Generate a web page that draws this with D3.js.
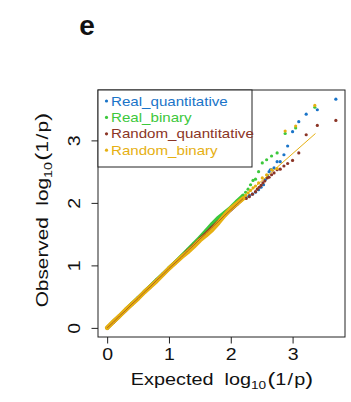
<!DOCTYPE html>
<html><head><meta charset="utf-8">
<script src="https://cdn.jsdelivr.net/npm/d3@7"></script>
<style>html,body{margin:0;padding:0;background:#fff;}svg{display:block;}</style>
</head><body>
<script>
// ---- data ----
const seriesNames = ["Real_quantitative","Real_binary","Random_quantitative","Random_binary"];
const seriesColors = ["#1a74c8","#3cc83c","#8b3526","#e6b012"];
const xTicks = [0,1,2,3];
const yTicks = [0,1,2,3];

// dense bulk of each QQ series, observed value at these expected values
const bulkExpected = [0.0,0.1,0.2,0.3,0.4,0.5,0.6,0.7,0.8,0.9,1.0,1.1,1.2,1.3,1.4,1.5,1.6,1.7,1.8,1.9,2.0,2.1,2.2];
const realQuantBulk   = [0.00,0.10,0.19,0.29,0.38,0.48,0.57,0.67,0.76,0.86,0.95,1.05,1.14,1.23,1.33,1.42,1.52,1.61,1.71,1.81,1.90,2.00,2.09];
const realBinBulk     = [0.00,0.10,0.19,0.29,0.39,0.48,0.58,0.67,0.77,0.86,0.96,1.05,1.15,1.25,1.35,1.45,1.56,1.67,1.77,1.85,1.93,2.03,2.12];
const randQuantBulk   = [0.00,0.09,0.19,0.28,0.38,0.47,0.57,0.66,0.76,0.85,0.95,1.04,1.13,1.23,1.32,1.42,1.51,1.61,1.70,1.80,1.89,1.98,2.07];
const randBinBulk     = [0.00,0.10,0.19,0.29,0.38,0.47,0.57,0.66,0.75,0.85,0.95,1.04,1.13,1.21,1.30,1.40,1.48,1.57,1.68,1.80,1.91,1.99,2.07];

// sparse tail points (expected, observed)
const realQuantTailExp = [2.25,2.30,2.35,2.40,2.45,2.49,2.53,2.56,2.59,2.62,2.64,2.66,2.70,2.75,2.80,2.86,2.92,3.00,3.10,3.22,3.40,3.70];
const realQuantTailObs = [2.10,2.12,2.14,2.17,2.21,2.25,2.29,2.37,2.44,2.50,2.53,2.53,2.56,2.66,2.66,2.77,2.91,3.14,3.30,3.42,3.49,3.66];
const realBinTailExp   = [2.24,2.28,2.32,2.36,2.40,2.45,2.51,2.58,2.66,2.75,2.88,3.05,3.36];
const realBinTailObs   = [2.17,2.22,2.29,2.36,2.38,2.50,2.64,2.69,2.75,2.80,3.11,3.20,3.53];
const randQuantTailExp = [2.25,2.30,2.35,2.40,2.43,2.46,2.49,2.52,2.55,2.59,2.62,2.66,2.70,2.75,2.80,2.86,2.92,3.00,3.10,3.22,3.40,3.70];
const randQuantTailObs = [2.07,2.10,2.14,2.18,2.22,2.25,2.28,2.32,2.35,2.40,2.41,2.45,2.48,2.53,2.54,2.59,2.63,2.68,2.80,3.09,3.24,3.32];
const randBinTailExp   = [2.24,2.28,2.32,2.36,2.40,2.45,2.51,2.58,2.66,2.75,2.88,3.05,3.36];
const randBinTailObs   = [2.12,2.16,2.20,2.24,2.27,2.32,2.40,2.45,2.53,2.55,3.15,3.23,3.56];

// fitted line segment (Random_binary)
const fitLineExp = [2.2,3.37];
const fitLineObs = [2.09,3.11];

const bulks = [realQuantBulk, realBinBulk, randQuantBulk, randBinBulk];
const tailsExp = [realQuantTailExp, realBinTailExp, randQuantTailExp, randBinTailExp];
const tailsObs = [realQuantTailObs, realBinTailObs, randQuantTailObs, randBinTailObs];

// ---- drawing ----
const W = 351, H = 402;
const plot = {left: 98, right: 345, top: 90, bottom: 337};
const FONT = "'Liberation Sans', Arial, Helvetica, sans-serif";
const STRETCH = 1.22;

const svg = d3.select("body").append("svg").attr("width", W).attr("height", H)
  .style("font-family", FONT);

const x = d3.scaleLinear().domain([-0.148, 3.848]).range([plot.left, plot.right]);
const y = d3.scaleLinear().domain([-0.146, 3.806]).range([plot.bottom, plot.top]);

// panel letter
svg.append("text").attr("x", 87).attr("y", 35).attr("text-anchor", "middle")
  .attr("font-size", 28).attr("font-weight", "bold").attr("fill", "#111").text("e");

// data
svg.append("defs").append("clipPath").attr("id", "clip")
  .append("rect").attr("x", plot.left).attr("y", plot.top)
  .attr("width", plot.right - plot.left).attr("height", plot.bottom - plot.top);
const dataG = svg.append("g").attr("clip-path", "url(#clip)");
const bulkWidth = [3.5, 3.5, 3.5, 4.5];
const line = d3.line().x(d => x(d[0])).y(d => y(d[1]));

seriesNames.forEach((name, i) => {
  const g = dataG.append("g");
  const bulkPts = bulkExpected.map((e, k) => [e, bulks[i][k]]);
  g.append("path").datum(bulkPts).attr("d", line).attr("fill", "none")
    .attr("stroke", seriesColors[i]).attr("stroke-width", bulkWidth[i])
    .attr("stroke-linecap", "round").attr("stroke-linejoin", "round");
  const tailPts = tailsExp[i].map((e, k) => [e, tailsObs[i][k]]);
  g.selectAll("circle").data(bulkPts.concat(tailPts)).join("circle")
    .attr("cx", d => x(d[0])).attr("cy", d => y(d[1])).attr("r", 1.6)
    .attr("fill", seriesColors[i]);
});

// Random_quantitative thin trace visible inside the band
dataG.append("path").datum(bulkExpected.map((e, k) => [e, randQuantBulk[k]])).attr("d", line)
  .attr("fill", "none").attr("stroke", seriesColors[2]).attr("stroke-width", 1).attr("opacity", 0.6);

// fit line
dataG.append("path").datum(fitLineExp.map((e, k) => [e, fitLineObs[k]])).attr("d", line)
  .attr("fill", "none").attr("stroke", seriesColors[3]).attr("stroke-width", 1);

// box
svg.append("rect").attr("x", plot.left).attr("y", plot.top)
  .attr("width", plot.right - plot.left).attr("height", plot.bottom - plot.top)
  .attr("fill", "none").attr("stroke", "#222").attr("stroke-width", 1);

// x axis
const xAx = svg.append("g").attr("transform", `translate(0,${plot.bottom})`)
  .call(d3.axisBottom(x).tickValues(xTicks).tickSize(6.5).tickFormat(d3.format("d")));
xAx.select(".domain").remove();
xAx.selectAll(".tick line").attr("stroke", "#222");
xAx.selectAll(".tick text").attr("y", 0).attr("dy", 0)
  .attr("transform", `translate(0,23) scale(${STRETCH},1)`)
  .attr("font-size", 16).attr("font-family", FONT).attr("fill", "#111");

// y axis
const yAx = svg.append("g").attr("transform", `translate(${plot.left},0)`)
  .call(d3.axisLeft(y).tickValues(yTicks).tickSize(6.5).tickFormat(d3.format("d")));
yAx.select(".domain").remove();
yAx.selectAll(".tick line").attr("stroke", "#222");
yAx.selectAll(".tick text").attr("x", 0).attr("y", 0).attr("dy", 0)
  .attr("text-anchor", "middle")
  .attr("transform", `translate(-18,0) rotate(-90) scale(${STRETCH},1)`)
  .attr("font-size", 16).attr("font-family", FONT).attr("fill", "#111");

// axis titles
function axisTitle(txt, tx, ty, rot, s) {
  const t = svg.append("text").attr("text-anchor", "middle").attr("fill", "#111")
    .attr("font-size", 16)
    .attr("transform", `translate(${tx},${ty}) rotate(${rot}) scale(${s},1)`);
  t.append("tspan").text(txt + "\u00a0\u00a0log");
  t.append("tspan").attr("font-size", 11).attr("dy", 4).text("10");
  t.append("tspan").attr("font-size", 19).attr("dy", -4).attr("dx", 1).text("(");
  t.append("tspan").text("1");
  t.append("tspan").attr("dx", 1).text("/");
  t.append("tspan").attr("dx", 1).text("p");
  t.append("tspan").attr("font-size", 19).text(")");
}
axisTitle("Expected", 222, 385, 0, 1.24);
axisTitle("Observed", 48, 210, -90, 1.3);

// legend
const leg = svg.append("g");
leg.append("rect").attr("x", plot.left).attr("y", plot.top)
  .attr("width", 252 - plot.left).attr("height", 167 - plot.top)
  .attr("fill", "#fff").attr("stroke", "#222").attr("stroke-width", 1);
seriesNames.forEach((name, i) => {
  const cy = 101 + i * 16.4;
  leg.append("circle").attr("cx", 106.5).attr("cy", cy).attr("r", 1.6).attr("fill", seriesColors[i]);
  leg.append("text").attr("transform", `translate(111,${cy + 4.5}) scale(1.2,1)`)
    .attr("font-size", 12.6).attr("fill", seriesColors[i]).text(name);
});
</script>
</body></html>
